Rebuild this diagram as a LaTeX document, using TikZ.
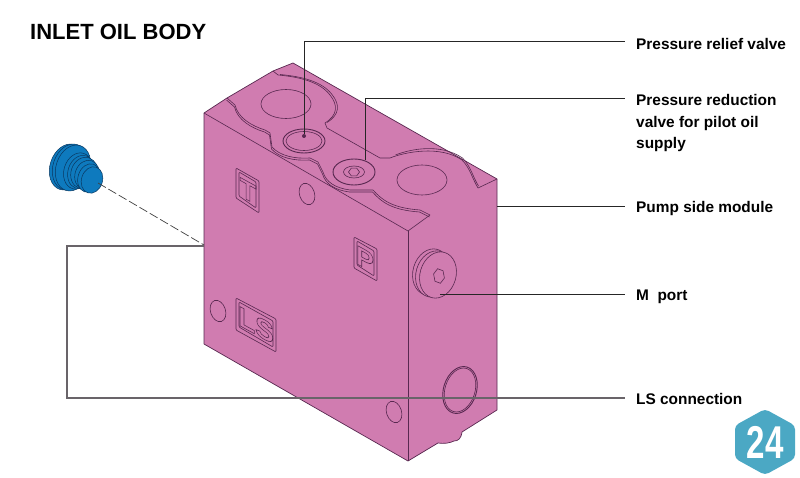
\documentclass[tikz,border=0pt]{standalone}
\usepackage{fontspec}
\setmainfont{Liberation Sans}
\usetikzlibrary{shapes}
\usetikzlibrary{calc}
\definecolor{bodypink}{RGB}{208,124,176}
\definecolor{bodyline}{RGB}{88,40,80}
\definecolor{plugblue}{RGB}{14,122,190}
\definecolor{plugline}{RGB}{10,55,95}
\definecolor{badgeblue}{RGB}{75,168,196}
\definecolor{leadgrey}{RGB}{105,100,105}
\tikzstyle{body} = [draw=bodyline, fill=bodypink, line width=0.7pt, line join=round]
\tikzstyle{edgeline} = [draw=bodyline, line width=0.6pt]
\tikzstyle{hole} = [ellipse, draw=bodyline, line width=0.6pt, inner sep=0pt]
\tikzstyle{plugdisc} = [ellipse, draw=plugline, fill=plugblue, line width=0.5pt, inner sep=0pt, rotate=-18]
\tikzstyle{stamp} = [draw=bodyline, line width=0.6pt, rounded corners=1pt]
\tikzstyle{letter} = [yslant=-0.55, transform shape, inner sep=0pt, text=bodyline]
\tikzstyle{caption} = [anchor=west, inner xsep=11pt, inner ysep=0pt, font=\fontsize{15.4}{21.5}\bfseries\selectfont, align=left]
\tikzstyle{leader} = [draw=black!85, line width=0.8pt]
\tikzstyle{leaderg} = [draw=leadgrey, line width=1.1pt]
\newcommand{\outlined}[1]{\special{pdf:code q 0.6 w 1 Tr}#1\special{pdf:code 0 Tr Q}}
\newcommand{\frontgroove}{(227,98) -- (235,105) .. controls (238,118) and (252,126) .. (265,130)
  -- (270,133) -- (272,147) .. controls (280,156) and (295,159) .. (310,158)
  -- (318,162) -- (323,172) .. controls (326,182) and (335,188) .. (350,190)
  -- (373,190) .. controls (382,200) and (392,208) .. (420,210) -- (430,215)}
\newcommand{\backgroove}{(273,71) -- (278,75) .. controls (300,77) and (320,82) .. (330,95)
  .. controls (338,105) and (338,115) .. (325,123) -- (327,128) -- (380,158) -- (390,158)
  .. controls (405,152) and (440,145) .. (462,160) .. controls (470,168) and (472,178) .. (478,188)}
\begin{document}
\begin{tikzpicture}[x=1pt,y=-1pt]
\useasboundingbox (0,0) rectangle (800,478);
% housing
\path[body] (204,113) -- (227,98) -- (273,71) -- (293,63) -- (497,179) -- (497,410)
  -- (462,432) .. controls (461,439) and (458,441) .. (454,441)
  .. controls (450,443) and (444,444) .. (438,443) -- (408,461) -- (204,344) -- cycle;
\draw[edgeline] (204,113) -- (408,231) -- (430,215);
\draw[edgeline] (478,188) -- (497,179);
\draw[edgeline] (408,231) -- (408,461);
% grooves on top
\draw[edgeline] \frontgroove;
\draw[edgeline, shift={(-0.5,2)}] \frontgroove;
\draw[edgeline] \backgroove;
\draw[edgeline, shift={(2,-0.5)}] (278,75) .. controls (300,77) and (320,82) .. (330,95)
  .. controls (338,105) and (338,115) .. (325,123);
\draw[edgeline, shift={(0.5,-2)}] (395,157) .. controls (410,151) and (440,145) .. (462,160) .. controls (470,168) and (472,178) .. (478,188);
% ports on top
\node[hole, minimum width=50pt, minimum height=29pt] (topl) at (286,104) {};
\node[hole, minimum width=50pt, minimum height=30pt] (topr) at (422,180) {};
\node[hole, minimum width=42pt, minimum height=24pt, line width=0.9pt] (rv) at (304,141) {};
\node[hole, minimum width=36pt, minimum height=19pt] (rvin) at (304,141) {};
\node[circle, fill=bodyline, inner sep=0pt, minimum size=4pt] (rvdot) at (304,136) {};
\node[hole, minimum width=42pt, minimum height=26pt, line width=0.9pt] (rd) at (354,172) {};
\node[hole, minimum width=21pt, minimum height=12pt] (rdin) at (354,172) {};
\node[regular polygon, regular polygon sides=6, draw=bodyline, line width=0.6pt, inner sep=0pt, minimum size=11pt, yscale=0.8] (rdhex) at (354,172) {};
% drillings
\node[hole, rotate=18, minimum width=15pt, minimum height=22pt] (dr1) at (307,194) {};
\node[hole, rotate=18, minimum width=15pt, minimum height=22pt] (dr2) at (218,311) {};
\node[hole, rotate=18, minimum width=15pt, minimum height=22pt] (dr3) at (394,412) {};
% stamped letters
\draw[stamp] (236,168) -- (259,181) -- (259,213) -- (236,198) -- cycle;
\draw[stamp] (239,172) -- (256,182) -- (256,208) -- (239,196) -- cycle;
\node[letter, font=\fontsize{27}{27}\bfseries\selectfont] (lt) at (248,191) {\outlined{T}};
\draw[stamp] (354,237) -- (377,249) -- (377,281) -- (354,268) -- cycle;
\draw[stamp] (357,241) -- (374,251) -- (374,276) -- (357,265) -- cycle;
\node[letter, font=\fontsize{27}{27}\bfseries\selectfont] (lp) at (365,259) {\outlined{P}};
\draw[stamp] (236,298) -- (276,319) -- (276,352) -- (236,330) -- cycle;
\draw[stamp] (239,302) -- (273,321) -- (273,347) -- (239,327) -- cycle;
\node[letter, font=\fontsize{28}{28}\bfseries\selectfont] (lls) at (256,325) {\outlined{LS}};
% M port plug
\node[hole, fill=bodypink, rotate=-16, minimum width=36pt, minimum height=47pt] (mb) at (431,272) {};
\node[hole, fill=bodypink, rotate=-16, minimum width=36pt, minimum height=47pt] (mc) at (434,274) {};
\node[hole, fill=bodypink, rotate=-16, minimum width=36pt, minimum height=47pt] (mf) at (438,275) {};
\node[regular polygon, regular polygon sides=6, draw=bodyline, line width=0.6pt, inner sep=0pt, minimum size=15pt, xscale=0.75, rotate=-16] (mhex) at (439,276) {};
% LS ring
\node[hole, rotate=-17, minimum width=33pt, minimum height=48pt, line width=0.9pt] (lsring) at (460,390) {};
\node[hole, rotate=-17, minimum width=30pt, minimum height=45pt] (lsringin) at (460,390) {};
% plug
\node[plugdisc, minimum width=34pt, minimum height=47pt] (pg0) at (67,167) {};
\node[plugdisc, minimum width=34pt, minimum height=47pt] (pg1) at (70,167) {};
\node[plugdisc, minimum width=34pt, minimum height=47pt] (pg2) at (73,168) {};
\node[plugdisc, minimum width=28pt, minimum height=37pt] (pg3) at (78,171) {};
\node[plugdisc, minimum width=26pt, minimum height=34pt] (pg4) at (81,172) {};
\node[plugdisc, minimum width=26pt, minimum height=32pt] (pg5) at (84,173) {};
\node[plugdisc, minimum width=24pt, minimum height=30pt] (pg6) at (87,175) {};
\node[plugdisc, minimum width=22pt, minimum height=29pt] (pg7) at (89,178) {};
\node[plugdisc, minimum width=21pt, minimum height=27pt] (pg8) at (92,180) {};
\coordinate (dashend) at (204,245);
\draw[draw=black!75, line width=0.7pt, dash pattern=on 9pt off 3pt] (pg8.center) ++(6,3) -- (dashend);
% title and labels
\node[anchor=west, inner sep=0pt, font=\fontsize{22}{22}\bfseries\selectfont] (title) at (30,32) {INLET OIL BODY};
\node[caption] (lblrv) at (625,44) {Pressure relief valve};
\node[caption] (lblrd) at (625,123.5) {Pressure reduction\\valve for pilot oil\\supply};
\node[caption] (lblps) at (625,209) {Pump side module};
\node[caption] (lblm) at (625,297) {M\ \ port};
\node[caption] (lblls) at (625,399) {LS connection};
% leaders
\coordinate (rvturn) at (303,41);
\coordinate (rdstart) at (365,160);
\coordinate (rdturn) at (365,98);
\coordinate (psstart) at (497,206);
\coordinate (mstart) at (440,294);
\coordinate (lsstart) at (204,246);
\coordinate (lsturn1) at (67,246);
\coordinate (lsturn2) at (67,398);
\draw[leader] (rvdot) -- (rvdot |- rvturn) -- (rvturn -| lblrv.west);
\draw[leader] (rdstart) -- (rdturn) -- (rdturn -| lblrd.west);
\draw[leader] (psstart) -- (psstart -| lblps.west);
\draw[leader] (mstart) -- (mstart -| lblm.west);
\draw[leaderg] (lsstart) -- (lsturn1) -- (lsturn2) -- (lsturn2 -| lblls.west);
% badge
\path[fill=badgeblue, rounded corners=4pt] (765,409) -- (795,425.5) -- (795,458.5) -- (765,475) -- (735,458.5) -- (735,425.5) -- cycle;
\node[inner sep=0pt, text=white, xscale=0.72, font=\fontsize{46}{46}\bfseries\selectfont] (badge) at (765,442) {24};
\end{tikzpicture}
\end{document}
